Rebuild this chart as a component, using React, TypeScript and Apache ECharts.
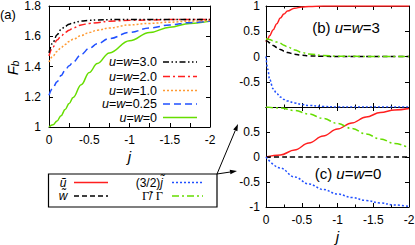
import React, { useEffect, useRef } from 'react';
import * as echarts from 'echarts';

// ---------- data ----------
// panel (a): F_b versus j for several u = w
const J_A = [0, -0.05, -0.1, -0.15, -0.2, -0.25, -0.3, -0.4, -0.5, -0.6, -0.75, -1, -1.25, -1.5, -1.75, -2];
const FB_UW30 = [1.49, 1.56, 1.61, 1.645, 1.665, 1.68, 1.69, 1.7, 1.705, 1.708, 1.71, 1.71, 1.71, 1.71, 1.71, 1.71];
const FB_UW20 = [1.47, 1.53, 1.575, 1.6, 1.625, 1.64, 1.655, 1.675, 1.685, 1.69, 1.7, 1.705, 1.708, 1.71, 1.71, 1.71];
const FB_UW10 = [1.43, 1.47, 1.5, 1.525, 1.545, 1.565, 1.58, 1.605, 1.625, 1.64, 1.655, 1.675, 1.685, 1.693, 1.7, 1.705];
const FB_UW025 = [1.21, 1.26, 1.3, 1.34, 1.375, 1.405, 1.43, 1.48, 1.52, 1.55, 1.585, 1.625, 1.655, 1.675, 1.69, 1.7];
const FB_UW0 = [1.0, 1.015, 1.04, 1.075, 1.115, 1.155, 1.195, 1.28, 1.36, 1.42, 1.49, 1.57, 1.625, 1.66, 1.685, 1.7];
const UW_LABELS = ['3.0', '2.0', '1.0', '0.25', '0'];

// panel (b): u = w = 3
const J_B = [0, -0.025, -0.05, -0.1, -0.15, -0.2, -0.25, -0.3, -0.4, -0.5, -0.6, -0.8, -1, -1.5, -2];
const UT_B = [0.29, 0.35, 0.41, 0.53, 0.65, 0.76, 0.84, 0.9, 0.955, 0.98, 0.99, 1, 1, 1, 1];
const WT_B = [0.32, 0.295, 0.27, 0.22, 0.18, 0.14, 0.11, 0.08, 0.045, 0.025, 0.012, 0.004, 0, 0, 0];
const JT_B = [0, -0.25, -0.45, -0.64, -0.73, -0.8, -0.85, -0.88, -0.92, -0.95, -0.97, -0.99, -1, -1, -1];
const GR_B = [0.35, 0.345, 0.335, 0.31, 0.285, 0.26, 0.225, 0.19, 0.13, 0.08, 0.05, 0.02, 0.006, 0, 0];

// panel (c): u = w = 0
const J_C = [0, -0.2, -0.4, -0.6, -0.8, -1, -1.2, -1.4, -1.6, -1.8, -2];
const UT_C = [0, 0.04, 0.14, 0.28, 0.42, 0.56, 0.68, 0.8, 0.89, 0.94, 0.97];
const WT_C = [0, 0, 0, 0, 0, 0, 0, 0, 0, 0, 0];
const JT_C = [0, -0.22, -0.4, -0.54, -0.65, -0.74, -0.81, -0.87, -0.92, -0.96, -0.99];
const GR_C = [1, 0.98, 0.93, 0.86, 0.77, 0.67, 0.57, 0.46, 0.36, 0.27, 0.18];

// ---------- styles ----------
const FONT = 'Liberation Sans';
const SERIF = 'Liberation Serif';
const RED = '#ff1f1f';
const BLACK = '#000000';
const BLUE = '#2050ff';
const GREEN = '#66dd00';
const ORANGE = '#ff9a33';

const DASH_DDOT = [6, 2.5, 1.5, 2.5, 1.5, 2.5];
const DASH_DOT = [7, 3, 2, 3];
const DOTS = [2, 2];
const DASHES = [7, 4];
const DASH_B = [5, 3];

const zip = (xs: number[], ys: number[]) => xs.map((x, i) => [x, ys[i]]);

const xAx = (gridIndex: number, position: 'top' | 'bottom', showLabel: boolean, name?: string) => ({
  type: 'value',
  gridIndex,
  position,
  min: -2,
  max: 0,
  interval: 0.5,
  inverse: true,
  name,
  nameLocation: 'middle',
  nameGap: 22,
  nameTextStyle: { fontFamily: FONT, fontStyle: 'italic', fontSize: 15, color: '#000' },
  axisLine: { show: true, onZero: false, lineStyle: { color: '#000', width: 1 } },
  axisTick: { show: true, inside: true, length: 4, lineStyle: { color: '#000' } },
  minorTick: { show: true, splitNumber: 2, length: gridIndex === 0 ? 4 : 2.5, lineStyle: { color: '#000' } },
  splitLine: { show: false },
  minorSplitLine: { show: false },
  axisLabel: {
    show: showLabel,
    margin: 7,
    color: '#000',
    fontSize: 12,
    fontFamily: FONT,
    formatter: (v: number) => String(v),
  },
});

const yAx = (
  gridIndex: number,
  position: 'left' | 'right',
  showLabel: boolean,
  min: number,
  max: number,
  interval: number,
  hide?: number
) => ({
  type: 'value',
  gridIndex,
  position,
  min,
  max,
  interval,
  axisLine: { show: true, onZero: false, lineStyle: { color: '#000', width: 1 } },
  axisTick: { show: true, inside: true, length: 4, lineStyle: { color: '#000' } },
  splitLine: { show: false },
  axisLabel: {
    show: showLabel,
    margin: gridIndex === 0 ? 8 : 6,
    color: '#000',
    fontSize: 12,
    fontFamily: FONT,
    formatter: (v: number) => (hide !== undefined && Math.abs(v - hide) < 1e-9 ? '' : String(Math.round(v * 100) / 100)),
  },
});

const line = (name: string, xi: number, yi: number, data: number[][], color: string, type: any, z = 2) => ({
  name,
  type: 'line',
  xAxisIndex: xi,
  yAxisIndex: yi,
  data,
  showSymbol: false,
  symbol: 'none',
  smooth: 0.4,
  smoothMonotone: 'x',
  z,
  lineStyle: { color, width: 1.5, type, cap: 'butt' },
  emphasis: { disabled: true },
});

const ital = { fontStyle: 'italic', fontFamily: FONT, fontSize: 12, fill: '#000' };
const norm = { fontFamily: FONT, fontSize: 12, fill: '#000' };

const A_COLORS = [BLACK, RED, ORANGE, BLUE, GREEN];
const A_DASHES: any[] = [DASH_DDOT, DASH_DOT, DOTS, DASHES, []];
const A_ROWS = [62, 76.5, 90.5, 104, 117.5];

function buildGraphic() {
  const g: any[] = [];
  // panel labels
  g.push({ type: 'text', x: 0, y: 14, silent: true, style: { text: '(a)', fontFamily: FONT, fontSize: 13, fill: '#000', verticalAlign: 'middle' } });
  g.push({
    type: 'text', x: 12, y: 68, rotation: Math.PI / 2, silent: true,
    style: {
      text: '{f|F}{s|b}', align: 'center', verticalAlign: 'middle',
      rich: {
        f: { fontFamily: FONT, fontStyle: 'italic', fontSize: 15, fill: '#000', lineHeight: 18 },
        s: { fontFamily: FONT, fontStyle: 'italic', fontSize: 10, fill: '#000', lineHeight: 18, padding: [7, 0, 0, 0] },
      },
    },
  });
  // panel (a) legend
  UW_LABELS.forEach((lab, i) => {
    g.push({
      type: 'text', x: 157, y: A_ROWS[i], silent: true,
      style: {
        text: `{i|u}{n|=}{i|w}{n|=${lab}}`, align: 'right', verticalAlign: 'middle',
        rich: { i: { ...ital, fontSize: 12.5, lineHeight: 12 }, n: { ...norm, fontSize: 12.5, lineHeight: 12 } },
      },
    });
    g.push({
      type: 'line', silent: true, shape: { x1: 163, y1: A_ROWS[i], x2: 197, y2: A_ROWS[i] },
      style: { stroke: A_COLORS[i], lineWidth: 1.5, lineDash: A_DASHES[i].length ? A_DASHES[i] : null },
    });
  });
  // panel (b), (c) titles
  g.push({
    type: 'text', x: 346, y: 27, silent: true,
    style: {
      text: '{n|(b) }{i|u}{n|=}{i|w}{n|=3}', align: 'center', verticalAlign: 'middle',
      rich: { i: { ...ital, fontSize: 15 }, n: { ...norm, fontSize: 15 } },
    },
  });
  g.push({
    type: 'text', x: 348, y: 173, silent: true,
    style: {
      text: '{n|(c) }{i|u}{n|=}{i|w}{n|=0}', align: 'center', verticalAlign: 'middle',
      rich: { i: { ...ital, fontSize: 15 }, n: { ...norm, fontSize: 15 } },
    },
  });
  // bottom legend box
  g.push({ type: 'rect', silent: true, shape: { x: 48.5, y: 174, width: 168.5, height: 33 }, style: { fill: '#fff', stroke: '#000', lineWidth: 1.2 } });
  const r1 = 182.5, r2 = 196;
  const FS = 12;
  const LH = 12;
  g.push({ type: 'text', x: 63, y: r1, silent: true, style: { text: '{i|\u0169}', align: 'center', verticalAlign: 'middle', rich: { i: { ...ital, fontSize: FS, lineHeight: LH } } } });
  g.push({ type: 'text', x: 63, y: r2, silent: true, style: { text: '{i|w\u0303}', align: 'center', verticalAlign: 'middle', rich: { i: { ...ital, fontSize: FS, lineHeight: LH } } } });
  g.push({ type: 'line', silent: true, shape: { x1: 74, y1: r1, x2: 108, y2: r1 }, style: { stroke: RED, lineWidth: 1.5 } });
  g.push({ type: 'line', silent: true, shape: { x1: 74, y1: r2, x2: 108, y2: r2 }, style: { stroke: BLACK, lineWidth: 1.5, lineDash: DASH_B } });
  g.push({
    type: 'text', x: 163, y: r1, silent: true,
    style: {
      text: '{n|(3/2)}{i|j\u0303}', align: 'right', verticalAlign: 'middle',
      rich: { i: { ...ital, fontSize: FS, lineHeight: LH }, n: { ...norm, fontSize: FS, lineHeight: LH } },
    },
  });
  g.push({
    type: 'text', x: 163, y: r2, silent: true,
    style: {
      text: '{g|\u0393\u0303}{n|/ }{g|\u0393}', align: 'right', verticalAlign: 'middle',
      rich: { g: { fontFamily: SERIF, fontSize: FS + 0.5, fill: '#000', lineHeight: LH }, n: { ...norm, fontSize: FS, lineHeight: LH } },
    },
  });
  g.push({ type: 'line', silent: true, shape: { x1: 172, y1: r1, x2: 203, y2: r1 }, style: { stroke: BLUE, lineWidth: 1.5, lineDash: DOTS } });
  g.push({ type: 'line', silent: true, shape: { x1: 172, y1: r2, x2: 203, y2: r2 }, style: { stroke: GREEN, lineWidth: 1.5, lineDash: DASH_DOT } });
  // arrows
  const arrow = (x1: number, y1: number, x2: number, y2: number) => {
    const dx = x2 - x1, dy = y2 - y1, L = Math.hypot(dx, dy);
    const ux = dx / L, uy = dy / L, hl = 7, hw = 2.3;
    const bx = x2 - ux * hl, by = y2 - uy * hl;
    g.push({ type: 'line', silent: true, shape: { x1, y1, x2: bx, y2: by }, style: { stroke: '#000', lineWidth: 1 } });
    g.push({
      type: 'polygon', silent: true,
      shape: { points: [[x2, y2], [bx - uy * hw, by + ux * hw], [bx + uy * hw, by - ux * hw]] },
      style: { fill: '#000' },
    });
  };
  arrow(217, 174, 238, 124);
  arrow(217, 174, 237, 171);
  return g;
}

const option: any = {
  animation: false,
  backgroundColor: '#fff',
  grid: [
    { left: 49, top: 6, width: 161, height: 121, outerBoundsMode: 'none' },
    { left: 266, top: 6, width: 143, height: 101, outerBoundsMode: 'none' },
    { left: 266, top: 107, width: 143, height: 100, outerBoundsMode: 'none' },
  ],
  xAxis: [
    xAx(0, 'bottom', true, 'j'),
    xAx(0, 'top', false),
    xAx(1, 'bottom', false),
    xAx(1, 'top', false),
    xAx(2, 'bottom', true, 'j'),
    xAx(2, 'top', false),
  ],
  yAxis: [
    yAx(0, 'left', true, 1, 1.8, 0.2),
    yAx(0, 'right', false, 1, 1.8, 0.2),
    yAx(1, 'left', true, -1, 1, 0.5, -1),
    yAx(1, 'right', false, -1, 1, 0.5),
    yAx(2, 'left', true, -1, 1, 0.5, 1),
    yAx(2, 'right', false, -1, 1, 0.5),
  ],
  series: [
    line('u=w=0', 0, 0, zip(J_A, FB_UW0), GREEN, 'solid'),
    line('u=w=0.25', 0, 0, zip(J_A, FB_UW025), BLUE, DASHES),
    line('u=w=1.0', 0, 0, zip(J_A, FB_UW10), ORANGE, DOTS),
    line('u=w=2.0', 0, 0, zip(J_A, FB_UW20), RED, DASH_DOT),
    line('u=w=3.0', 0, 0, zip(J_A, FB_UW30), BLACK, DASH_DDOT),

    line('b: ũ', 2, 2, zip(J_B, UT_B), RED, 'solid'),
    line('b: w̃', 2, 2, zip(J_B, WT_B), BLACK, DASH_B),
    line('b: (3/2)j̃', 2, 2, zip(J_B, JT_B), BLUE, DOTS),
    line('b: Γ̃/Γ', 2, 2, zip(J_B, GR_B), GREEN, DASH_DOT),

    line('c: ũ', 4, 4, zip(J_C, UT_C), RED, 'solid'),
    line('c: w̃', 4, 4, zip(J_C, WT_C), BLACK, DASH_B),
    line('c: (3/2)j̃', 4, 4, zip(J_C, JT_C), BLUE, DOTS),
    line('c: Γ̃/Γ', 4, 4, zip(J_C, GR_C), GREEN, DASH_DOT),
  ],
  graphic: buildGraphic(),
};

export default function App() {
  const ref = useRef<HTMLDivElement>(null);
  useEffect(() => {
    const chart = echarts.init(ref.current as HTMLDivElement, undefined, { renderer: 'svg' });
    chart.setOption(option);
    return () => chart.dispose();
  }, []);
  return <div ref={ref} style={{ position: 'fixed', left: 0, top: 0, width: 415, height: 245 }} />;
}
